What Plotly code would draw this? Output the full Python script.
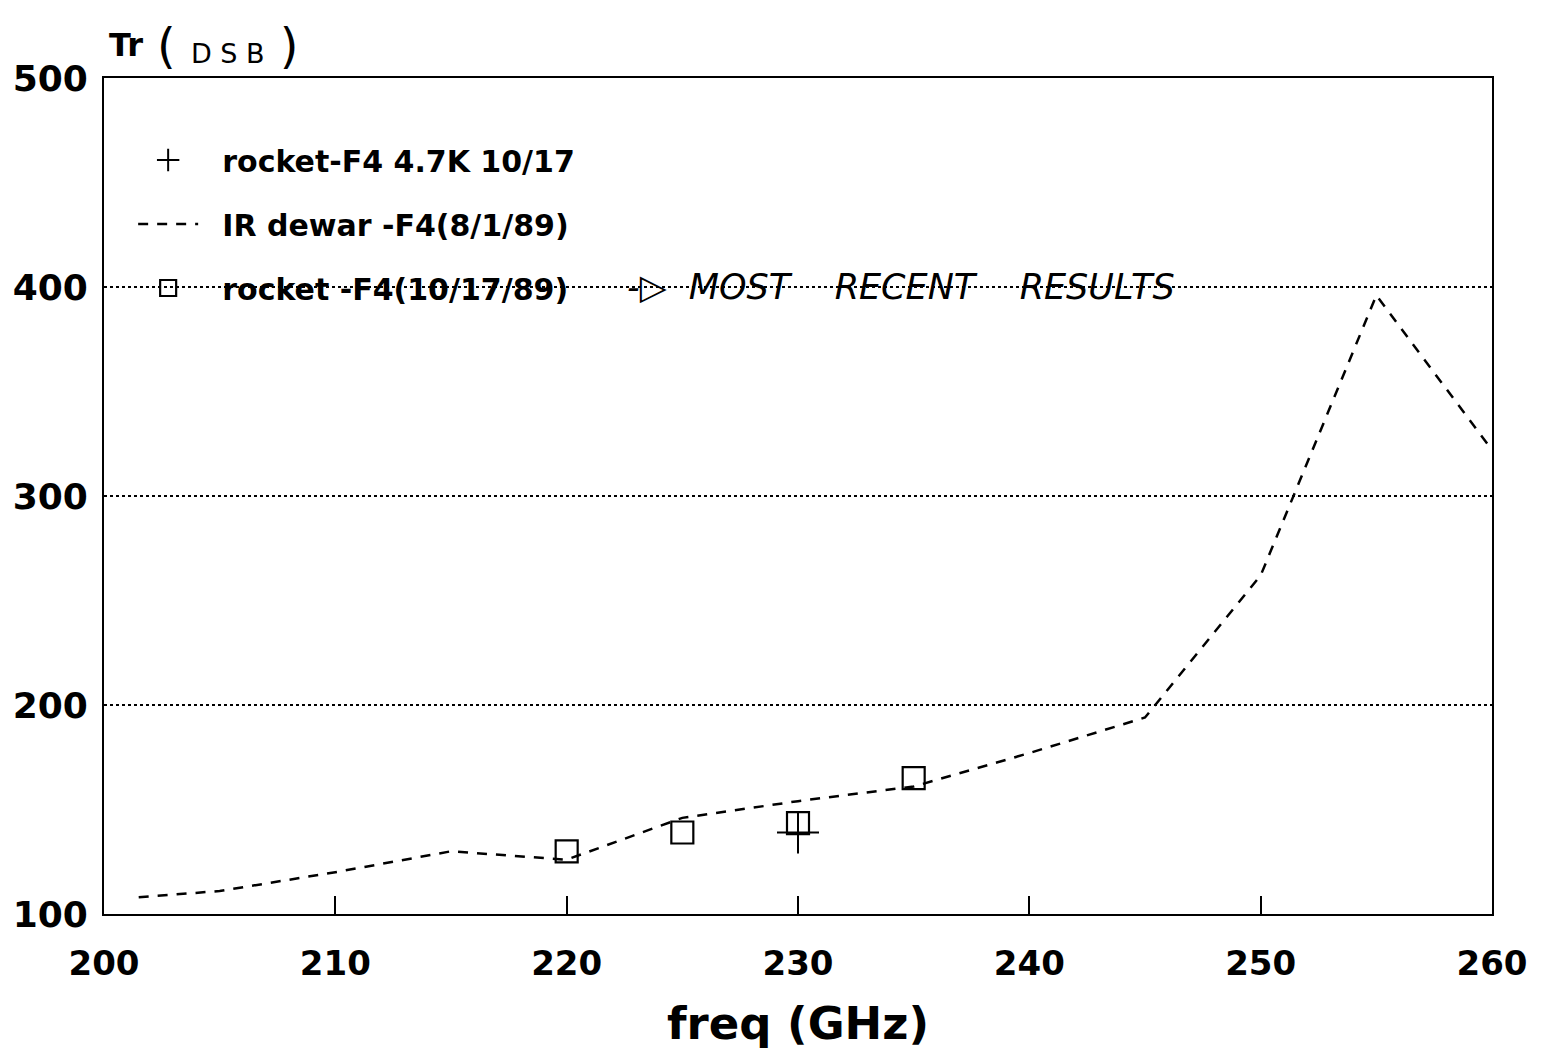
import plotly.graph_objects as go

# Data
dewar_freq = [201.5, 205, 210, 215, 220, 225, 230, 235, 240, 245, 250, 255, 260]
dewar_tr = [108, 111, 120, 130, 126, 146, 154, 161, 177, 194, 262, 396, 322]

rocket_sq_freq = [220, 225, 230, 235]
rocket_sq_tr = [130, 139, 143.5, 165]

rocket_plus_freq = [230]
rocket_plus_tr = [139]

x_ticks = [200, 210, 220, 230, 240, 250, 260]
y_ticks = [100, 200, 300, 400, 500]

FONT = "DejaVu Sans, sans-serif"
SP = "&nbsp;&nbsp;"

fig = go.Figure()
fig.add_trace(go.Scatter(
    x=rocket_plus_freq, y=rocket_plus_tr, mode="markers",
    name=SP + "<b>rocket-F4 4.7K 10/17</b>", legendgroup="a",
    marker=dict(symbol="cross-thin-open", size=30, line=dict(color="black", width=2), color="black"),
))
fig.add_trace(go.Scatter(
    x=dewar_freq, y=dewar_tr, mode="lines",
    name=SP + "<b>IR dewar -F4(8/1/89)</b>", legendgroup="b",
    line=dict(color="black", width=2.5, dash="10px,9px"),
))
fig.add_trace(go.Scatter(
    x=rocket_sq_freq, y=rocket_sq_tr, mode="markers",
    name=SP + "<b>rocket -F4(10/17/89)</b>", legendgroup="c",
    marker=dict(symbol="square-open", size=22, line=dict(color="black", width=2.2), color="black"),
))

fig.update_layout(
    width=1541, height=1059,
    paper_bgcolor="white", plot_bgcolor="white",
    margin=dict(l=96, r=57, t=70, b=153),
    font=dict(family=FONT, color="black"),
    legend=dict(
        x=0.021, y=0.933, xanchor="left", yanchor="top",
        bgcolor="rgba(0,0,0,0)", font=dict(size=30, family=FONT, color="black"),
        tracegroupgap=22, itemwidth=60,
    ),
    xaxis=dict(
        range=[200, 260], tickvals=x_ticks, ticktext=[f"<b>{v}</b>" for v in x_ticks],
        ticks="inside", ticklen=18, tickwidth=2, automargin=False,
        tickcolor="black", showgrid=False, showline=True, linecolor="black", linewidth=2,
        mirror=True, zeroline=False, ticklabelstandoff=18,
        tickfont=dict(size=34, family=FONT, color="black"),
        title=dict(text="<b>freq (GHz)</b>", font=dict(size=45, family=FONT, color="black"), standoff=26),
    ),
    yaxis=dict(
        range=[100, 500], tickvals=y_ticks, ticktext=[f"<b>{v}</b>" for v in y_ticks],
        ticks="", showline=True, linecolor="black", automargin=False,
        linewidth=2, mirror=True, zeroline=False, showgrid=True, gridcolor="black",
        griddash="dot", gridwidth=1.5, ticklabelstandoff=7,
        tickfont=dict(size=36, family=FONT, color="black"),
    ),
)

fig.add_annotation(xref="paper", yref="paper", x=0.0, y=1.0, xshift=3, yshift=12,
                   xanchor="left", yanchor="bottom", showarrow=False,
                   text="<b>Tr</b>", font=dict(size=32, family=FONT, color="black"))
fig.add_annotation(xref="paper", yref="paper", x=0.037, y=1.0, yshift=2,
                   xanchor="left", yanchor="bottom", showarrow=False,
                   text="( <span style='font-size:27px'>D S B</span> )",
                   font=dict(size=48, family="DejaVu Sans", color="black"))
fig.add_annotation(x=222.5, y=400, xanchor="left", yanchor="middle", showarrow=False,
                   text="<i>-▷  MOST    RECENT    RESULTS</i>",
                   font=dict(size=35, family="DejaVu Sans", color="black"))

fig.write_html("out.html")
